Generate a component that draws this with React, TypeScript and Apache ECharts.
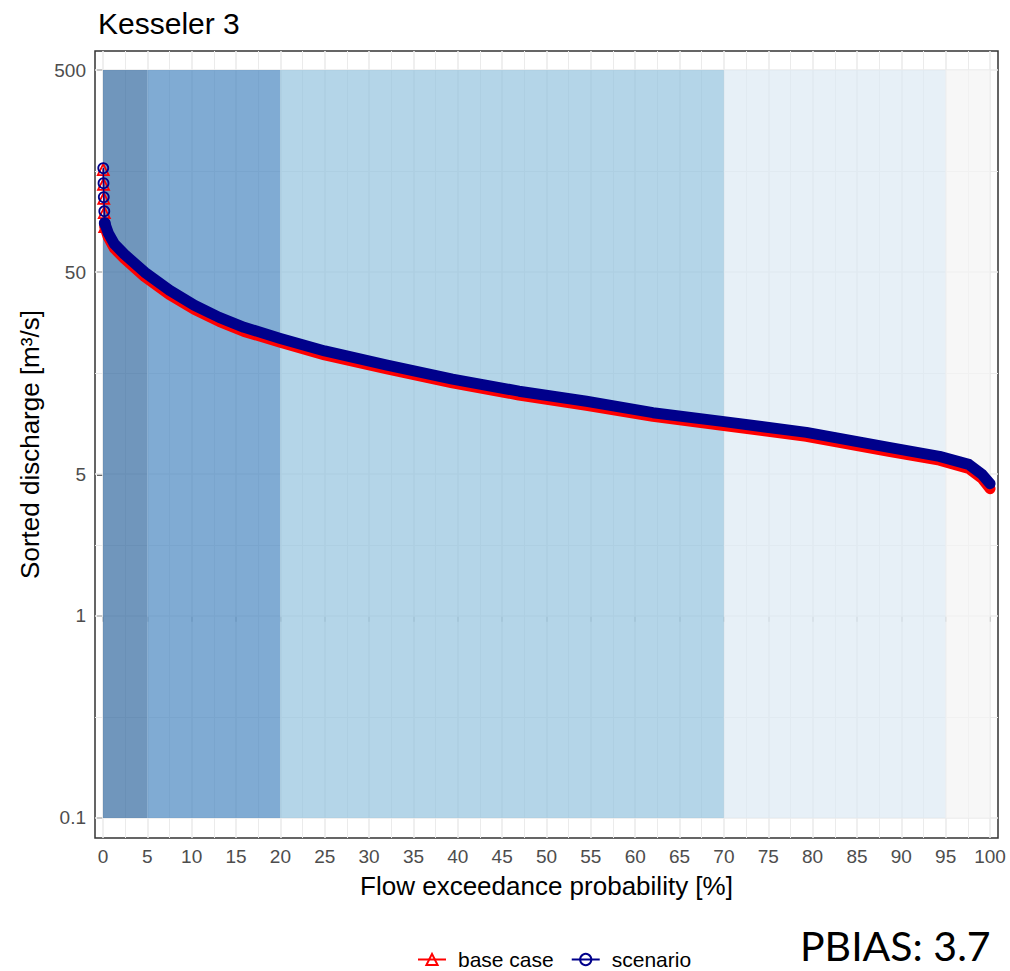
import React, { useEffect, useRef } from 'react';
import * as echarts from 'echarts';

// Flow duration curve values
const exceedance = [0.03, 0.06, 0.09, 0.15, 0.2, 0.6, 1.3, 2.4, 4.7, 7.5, 10.3, 13.1, 15.9, 19.9, 25, 31.9, 39.4, 46.9, 54.5, 62, 69.8, 79.3, 88.6, 94.3, 97.6, 99.1, 99.9, 100];
const scenario = [163.6, 137.9, 117.6, 100.2, 87.4, 78, 68.8, 61.4, 50.0, 40.7, 34.3, 29.9, 26.7, 23.6, 20.4, 17.4, 14.8, 12.9, 11.5, 10.1, 9.15, 8.07, 6.8, 6.14, 5.61, 5.0, 4.56, 4.5];
const baseCase = [161, 136, 116, 98.5, 84, 74.5, 65.5, 58.5, 47.6, 38.8, 32.8, 28.6, 25.5, 22.6, 19.5, 16.7, 14.2, 12.35, 11.0, 9.7, 8.75, 7.72, 6.5, 5.88, 5.36, 4.78, 4.32, 4.25];
const peakCount = 5;

const xTicks = [0, 5, 10, 15, 20, 25, 30, 35, 40, 45, 50, 55, 60, 65, 70, 75, 80, 85, 90, 95, 100];
const xMinorBreaks = [2.5, 7.5, 12.5, 17.5, 22.5, 27.5, 32.5, 37.5, 42.5, 47.5, 52.5, 57.5, 62.5, 67.5, 72.5, 77.5, 82.5, 87.5, 92.5, 97.5];
const yTicks = [0.1, 1, 5, 50, 500];
const yMinorBreaks = [0.316, 2.236, 15.81, 158.1];

const bandEdges = [0, 5, 20, 70, 95, 100];
const bandColors = [
  'rgba(51,106,160,0.7)',
  'rgba(74,136,192,0.7)',
  'rgba(148,195,222,0.7)',
  'rgba(221,234,244,0.7)',
  'rgba(244,244,244,0.7)',
];
const bandLow = 0.1;
const bandHigh = 500;

const FONT = '"Liberation Sans", Arial, sans-serif';
const lg = (v: number) => Math.log10(v);

export default function App() {
  const ref = useRef<HTMLDivElement>(null);
  useEffect(() => {
    if (!ref.current) return;
    const chart = echarts.init(ref.current, undefined, { renderer: 'svg' });
    const pts = (vals: number[]) => exceedance.map((x, i) => [x, lg(vals[i])]);
    const basePts = pts(baseCase);
    const scenPts = pts(scenario);

    const gridLines: any[] = [];
    xMinorBreaks.forEach((v) => gridLines.push({ xAxis: v, lineStyle: { color: '#ebebeb', width: 1, type: 'solid' } }));
    xTicks.forEach((v) => gridLines.push({ xAxis: v, lineStyle: { color: '#ebebeb', width: 1.6, type: 'solid' } }));
    yMinorBreaks.forEach((v) => gridLines.push({ yAxis: lg(v), lineStyle: { color: '#ebebeb', width: 1, type: 'solid' } }));
    yTicks.forEach((v) => gridLines.push({ yAxis: lg(v), lineStyle: { color: '#ebebeb', width: 1.6, type: 'solid' } }));

    const bands = bandColors.map((c, i) => [
      { xAxis: bandEdges[i], yAxis: lg(bandLow), itemStyle: { color: c } },
      { xAxis: bandEdges[i + 1], yAxis: lg(bandHigh) },
    ]);

    const option: any = {
      animation: false,
      backgroundColor: '#ffffff',
      title: {
        text: 'Kesseler 3',
        left: 93,
        top: 3,
        textStyle: { fontFamily: FONT, fontSize: 30, fontWeight: 'normal', color: '#000' },
      },
      grid: {
        left: 95, right: 12, top: 51, bottom: 133,
        show: true, borderColor: '#333333', borderWidth: 1.5, backgroundColor: 'transparent',
      },
      xAxis: {
        type: 'value',
        min: -0.9,
        max: 100.9,
        name: 'Flow exceedance probability [%]',
        nameLocation: 'middle',
        nameGap: 35,
        nameTextStyle: { fontFamily: FONT, fontSize: 26, color: '#000' },
        axisLine: { show: false },
        axisTick: { show: true, length: 6, lineStyle: { color: '#333', width: 1.5 }, customValues: xTicks },
        axisLabel: { customValues: xTicks, fontFamily: FONT, fontSize: 19, color: '#4d4d4d', margin: 9 },
        splitLine: { show: false },
      },
      yAxis: {
        type: 'value',
        min: -1.099,
        max: 2.793,
        name: 'Sorted discharge [m³/s]',
        nameLocation: 'middle',
        nameGap: 52,
        nameTextStyle: { fontFamily: FONT, fontSize: 26, color: '#000' },
        axisLine: { show: false },
        axisTick: { show: true, length: 6, lineStyle: { color: '#333', width: 1.5 }, customValues: yTicks.map(lg) },
        axisLabel: {
          customValues: yTicks.map(lg),
          fontFamily: FONT, fontSize: 19, color: '#4d4d4d', margin: 9,
          formatter: (v: number) => {
            const t = yTicks.find((tt) => Math.abs(lg(tt) - v) < 1e-6);
            return t === undefined ? '' : String(t);
          },
        },
        splitLine: { show: false },
      },
      legend: {
        data: ['base case', 'scenario'],
        left: 412,
        top: 944,
        itemWidth: 28,
        itemHeight: 14,
        itemGap: 17,
        textStyle: { fontFamily: FONT, fontSize: 21, color: '#000', padding: [0, 0, 0, 7] },
      },
      graphic: [
        {
          type: 'text',
          left: 800,
          top: 925,
          style: { text: 'PBIAS: 3.7', fontSize: 41, fontFamily: 'Lato, "Open Sans", sans-serif', fill: '#000' },
        },
      ],
      series: [
        {
          type: 'line', data: [], silent: true,
          markLine: { silent: true, symbol: 'none', z: 1, label: { show: false }, data: gridLines },
        },
        {
          type: 'line', data: [], silent: true,
          markArea: { silent: true, z: 2, data: bands },
        },
        {
          name: 'base case', type: 'line', z: 3,
          data: basePts.slice(0, peakCount),
          symbol: 'triangle', symbolSize: 11,
          itemStyle: { color: 'rgba(0,0,0,0)', borderColor: '#ff0000', borderWidth: 1.8 },
          lineStyle: { color: '#ff0000', width: 1.5 },
        },
        {
          name: 'base case', type: 'line', z: 3,
          data: basePts.slice(peakCount - 1),
          symbol: 'none', showSymbol: false,
          itemStyle: { color: '#ff0000' },
          lineStyle: { color: '#ff0000', width: 11, cap: 'round', join: 'round' },
        },
        {
          name: 'scenario', type: 'line', z: 4,
          data: scenPts.slice(0, peakCount),
          symbol: 'circle', symbolSize: 10,
          itemStyle: { color: 'rgba(0,0,0,0)', borderColor: '#00008b', borderWidth: 1.8 },
          lineStyle: { color: '#00008b', width: 1.5 },
        },
        {
          name: 'scenario', type: 'line', z: 4,
          data: scenPts.slice(peakCount - 1),
          symbol: 'none', showSymbol: false,
          itemStyle: { color: '#00008b' },
          lineStyle: { color: '#00008b', width: 11, cap: 'round', join: 'round' },
        },
      ],
    };
    chart.setOption(option);
    return () => chart.dispose();
  }, []);
  return <div ref={ref} style={{ position: 'absolute', left: 0, top: 0, width: 1010, height: 971 }} />;
}
